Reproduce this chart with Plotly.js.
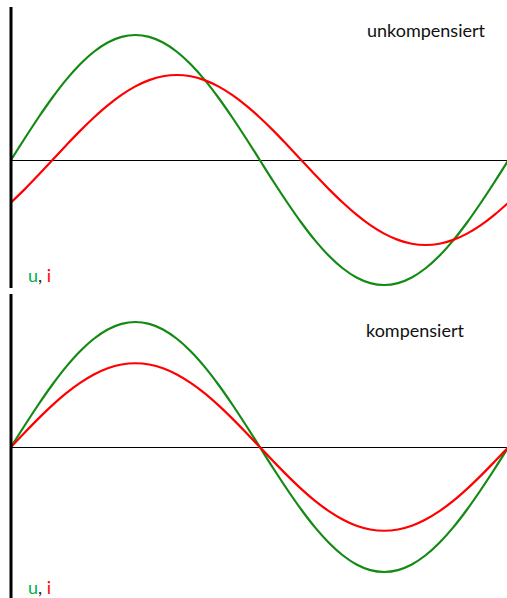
<!DOCTYPE html>
<html>
<head>
<meta charset="utf-8">
<script src="https://cdn.plot.ly/plotly-3.0.1.min.js"></script>
<style>html,body{margin:0;padding:0;background:#fff;}#chart{width:507px;height:598px;}</style>
</head>
<body>
<div id="chart"></div>
<script>
// phase angle in degrees
const phase = [0,10,20,30,40,50,60,70,80,90,100,110,120,130,140,150,160,170,180,190,200,210,220,230,240,250,260,270,280,290,300,310,320,330,340,350,360];
// top panel: uncompensated
const uTop = [0,0.174,0.342,0.5,0.643,0.766,0.866,0.94,0.985,1.0,0.985,0.94,0.866,0.766,0.643,0.5,0.342,0.174,0,-0.174,-0.342,-0.5,-0.643,-0.766,-0.866,-0.94,-0.985,-1.0,-0.985,-0.94,-0.866,-0.766,-0.643,-0.5,-0.342,-0.174,0];
const iTop = [-0.34,-0.233,-0.118,0,0.118,0.233,0.34,0.437,0.521,0.589,0.639,0.67,0.68,0.67,0.639,0.589,0.521,0.437,0.34,0.233,0.118,0,-0.118,-0.233,-0.34,-0.437,-0.521,-0.589,-0.639,-0.67,-0.68,-0.67,-0.639,-0.589,-0.521,-0.437,-0.34];
// bottom panel: compensated
const uBot = [0,0.174,0.342,0.5,0.643,0.766,0.866,0.94,0.985,1.0,0.985,0.94,0.866,0.766,0.643,0.5,0.342,0.174,0,-0.174,-0.342,-0.5,-0.643,-0.766,-0.866,-0.94,-0.985,-1.0,-0.985,-0.94,-0.866,-0.766,-0.643,-0.5,-0.342,-0.174,0];
const iBot = [0,0.116,0.229,0.335,0.431,0.513,0.58,0.63,0.66,0.67,0.66,0.63,0.58,0.513,0.431,0.335,0.229,0.116,0,-0.116,-0.229,-0.335,-0.431,-0.513,-0.58,-0.63,-0.66,-0.67,-0.66,-0.63,-0.58,-0.513,-0.431,-0.335,-0.229,-0.116,0];
const panelLabels = ['unkompensiert','kompensiert'];
const axisLabel = '<span style="color:#00b050">u</span>, <span style="color:#ff0000">i</span>';

const green = '#138a13', red = '#ff0000';
const lw = 2.2;
const ln = c => ({color:c, width:lw, shape:'spline', smoothing:1});
const traces = [
  {x: phase, y: uTop, xaxis:'x', yaxis:'y', mode:'lines', line:ln(green), hoverinfo:'skip'},
  {x: phase, y: iTop, xaxis:'x', yaxis:'y', mode:'lines', line:ln(red), hoverinfo:'skip'},
  {x: phase, y: uBot, xaxis:'x2', yaxis:'y2', mode:'lines', line:ln(green), hoverinfo:'skip'},
  {x: phase, y: iBot, xaxis:'x2', yaxis:'y2', mode:'lines', line:ln(red), hoverinfo:'skip'}
];
const H = 598, W = 507, L = 10.5;
const xr = [0, 358.9];
const ax = {range: xr, showgrid:false, zeroline:false, showticklabels:false, ticks:'', showline:false, fixedrange:true};
const yax = {showgrid:false, zeroline:true, zerolinecolor:'#000', zerolinewidth:1, showticklabels:false, ticks:'', showline:false, fixedrange:true};
const px2paperX = p => (p - L) / (W - L);
const px2paperY = p => 1 - p / H;
const fnt = {family:'Lato, sans-serif', size:18, color:'#111'};
const layout = {
  width: W, height: H,
  margin: {l: L, r: 0, t: 0, b: 0},
  paper_bgcolor: '#fff', plot_bgcolor: '#fff',
  showlegend: false,
  xaxis: Object.assign({}, ax, {anchor:'y'}),
  yaxis: Object.assign({}, yax, {domain:[px2paperY(288), px2paperY(7)], range:[-1.024, 1.224], anchor:'x'}),
  xaxis2: Object.assign({}, ax, {anchor:'y2'}),
  yaxis2: Object.assign({}, yax, {domain:[0, px2paperY(294)], range:[-1.208, 1.224], anchor:'x2'}),
  shapes: [
    {type:'line', xref:'paper', yref:'y domain', x0:0, x1:0, y0:0, y1:1, line:{color:'#000', width:3}},
    {type:'line', xref:'paper', yref:'y2 domain', x0:0, x1:0, y0:0, y1:1, line:{color:'#000', width:3}}
  ],
  annotations: [
    {text: panelLabels[0], xref:'paper', yref:'paper', x: px2paperX(365), y: px2paperY(30), xanchor:'left', yanchor:'middle', showarrow:false, font:fnt},
    {text: panelLabels[1], xref:'paper', yref:'paper', x: px2paperX(364), y: px2paperY(330), xanchor:'left', yanchor:'middle', showarrow:false, font:fnt},
    {text: axisLabel, xref:'paper', yref:'paper', x: px2paperX(26), y: px2paperY(275), xanchor:'left', yanchor:'middle', showarrow:false, font:Object.assign({}, fnt, {color:'#222'})},
    {text: axisLabel, xref:'paper', yref:'paper', x: px2paperX(26), y: px2paperY(587), xanchor:'left', yanchor:'middle', showarrow:false, font:Object.assign({}, fnt, {color:'#222'})}
  ]
};
Plotly.newPlot('chart', traces, layout, {displayModeBar:false, staticPlot:true});
</script>
</body>
</html>
